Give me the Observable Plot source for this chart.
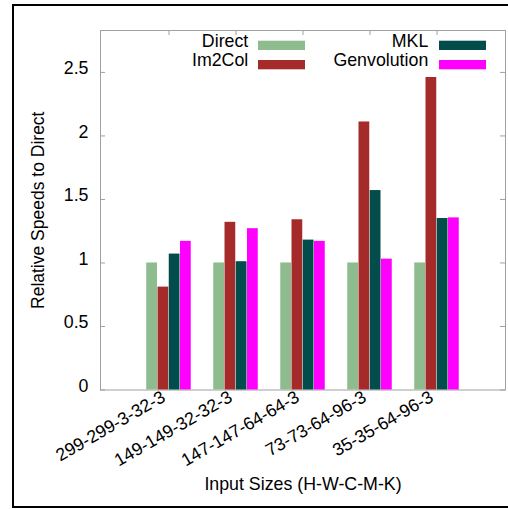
<!DOCTYPE html>
<html>
<head>
<meta charset="utf-8">
<script src="https://cdn.jsdelivr.net/npm/d3@7"></script>
<script src="https://cdn.jsdelivr.net/npm/@observablehq/plot@0.6"></script>
<style>
  html, body { margin: 0; padding: 0; background: #fff; overflow: hidden; }
  #chart { width: 508px; height: 509px; }
</style>
</head>
<body>
<div id="chart"></div>
<script>
// Input sizes (H-W-C-M-K) and the four convolution implementations
const groups = ["299-299-3-32-3", "149-149-32-32-3", "147-147-64-64-3", "73-73-64-96-3", "35-35-64-96-3"];
const series = ["Direct", "Im2Col", "MKL", "Genvolution"];

// Speed of each implementation relative to Direct
const direct      = [1.00, 1.00, 1.00, 1.00, 1.00];
const im2col      = [0.81, 1.32, 1.34, 2.11, 2.46];
const mkl         = [1.07, 1.01, 1.18, 1.57, 1.35];
const genvolution = [1.17, 1.27, 1.17, 1.03, 1.355];

const yTicks = [0, 0.5, 1, 1.5, 2, 2.5];
const xTitle = "Input Sizes (H-W-C-M-K)";
const yTitle = "Relative Speeds to Direct";

const seriesColors = ["#8fbc8f", "#a52a2a", "#024c4c", "#ff00ff"];
const frameColor = "#a0a0a0";
const font = "'Liberation Sans', Arial, Helvetica, sans-serif";
const fontSize = 17.8;

const values = [direct, im2col, mkl, genvolution];
const rows = series.flatMap((s, j) => groups.map((g, i) => ({group: g, series: s, value: values[j][i]})));

const W = 508, H = 509;
const mL = 100, mR = 3, mT = 30, mB = 119.5;
const frameW = W - mL - mR, frameH = H - mT - mB;
// each group gets one band; bars sit in the middle four of six equal slots
const step = frameW / (groups.length + 1);
const slot = step / 6;

const barMarks = series.map((s, j) => Plot.barY(rows.filter(d => d.series === s), {
  x: "group",
  y: "value",
  fill: seriesColors[j],
  insetLeft: slot * (1 + j),
  insetRight: slot * (4 - j)
}));

const chart = Plot.plot({
  width: W,
  height: H,
  marginLeft: mL,
  marginRight: mR,
  marginTop: mT,
  marginBottom: mB,
  style: {fontFamily: font, fontSize: fontSize + "px", background: "white", color: "black"},
  x: {domain: groups, paddingInner: 0, paddingOuter: 0.5, axis: null},
  y: {domain: [0, 2.83]},
  marks: [
    Plot.frame({stroke: frameColor}),
    ...barMarks,
    // inward tick marks on all sides
    Plot.tickY(yTicks, {y: d => d, stroke: frameColor, insetRight: frameW - 5}),
    Plot.tickY(yTicks, {y: d => d, stroke: frameColor, insetLeft: frameW - 5}),
    Plot.tickX(groups, {x: d => d, stroke: frameColor, insetBottom: frameH - 5}),
    Plot.axisY(yTicks, {tickSize: 0, tickPadding: 12, dy: -4, label: null, fontSize, tickFormat: d => String(d)}),
    // rotated category labels
    Plot.text(groups, {x: d => d, frameAnchor: "bottom", rotate: -30, textAnchor: "end", lineAnchor: "bottom", dx: -2.5, dy: 10.5, fontSize, fill: "black"}),
    Plot.text([xTitle], {frameAnchor: "bottom", textAnchor: "middle", dy: 100, lineAnchor: "bottom", fontSize, fill: "black"}),
    Plot.text([yTitle], {frameAnchor: "left", textAnchor: "middle", rotate: -90, dx: -56.7, lineAnchor: "bottom", fontSize: 17.5, fill: "black"})
  ]
});

const svg = d3.select(chart);

// two-column key in the upper part of the plot area
const key = svg.append("g").attr("font-family", font).attr("font-size", fontSize);
const textRight = [248.3, 428.3];
const swatchLeft = [258, 439];
series.forEach((s, j) => {
  const col = Math.floor(j / 2), row = j % 2;
  key.append("text")
    .attr("x", textRight[col])
    .attr("y", 46.7 + row * 19)
    .attr("text-anchor", "end")
    .attr("fill", "black")
    .text(s);
  key.append("rect")
    .attr("x", swatchLeft[col])
    .attr("y", 40.7 + row * 19.3)
    .attr("width", 47)
    .attr("height", 9.3)
    .attr("fill", seriesColors[j]);
});

// outer border around the figure
svg.append("rect")
  .attr("x", 13).attr("y", 5)
  .attr("width", 500).attr("height", 502)
  .attr("fill", "none").attr("stroke", "black").attr("stroke-width", 2);

document.getElementById("chart").append(chart);
</script>
</body>
</html>
